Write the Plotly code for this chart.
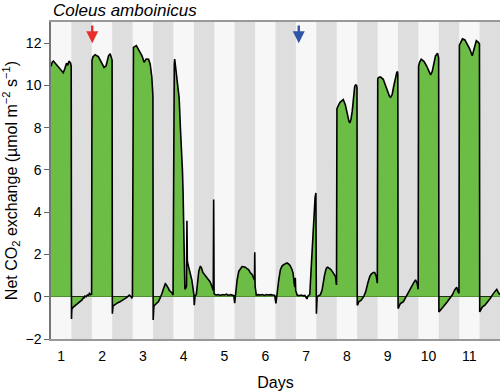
import plotly.graph_objects as go

# ---------------- data ----------------
day_labels = ["1", "2", "3", "4", "5", "6", "7", "8", "9", "10", "11"]

# Days 1-3 (normal C3-like pattern)
early_t = [0.0, 0.03, 0.06, 0.10, 0.15, 0.20, 0.25, 0.30, 0.34, 0.38, 0.41, 0.44, 0.48, 0.495,
           0.502, 0.51, 0.54, 0.59, 0.63, 0.67, 0.70, 0.73, 0.76, 0.78, 0.81, 0.83, 0.86, 0.89, 0.92, 0.94, 0.97, 0.995,
           1.005, 1.03, 1.08, 1.16, 1.24, 1.30, 1.35, 1.41, 1.45, 1.49, 1.497,
           1.503, 1.52, 1.55, 1.58, 1.61, 1.65, 1.69, 1.73, 1.77, 1.80, 1.82, 1.85, 1.87, 1.90, 1.92, 1.95, 1.98, 1.995,
           2.005, 2.02, 2.09, 2.14, 2.19, 2.23, 2.28, 2.33, 2.39, 2.43, 2.47, 2.49, 2.497,
           2.503, 2.52, 2.55, 2.59, 2.63, 2.67, 2.70, 2.72, 2.76, 2.78, 2.80, 2.82, 2.85, 2.88, 2.90, 2.93, 2.96, 2.99]
early_v = [10.9, 11.1, 11.15, 11.05, 10.95, 10.85, 10.7, 10.6, 10.8, 11.05, 10.95, 11.15, 11.05, 10.9,
           -1.05, -0.6, -0.5, -0.42, -0.38, -0.3, -0.25, -0.18, -0.15, -0.08, -0.05, 0.03, 0.0, 0.08, 0.06, 0.16, 0.1, 0.12,
           11.2, 11.36, 11.45, 11.36, 11.09, 10.85, 10.93, 11.4, 11.5, 11.3, 11.2,
           -0.8, -0.45, -0.4, -0.35, -0.32, -0.27, -0.24, -0.2, -0.16, -0.12, -0.08, -0.04, 0.0, 0.04, 0.08, 0.02, -0.05, 0.0,
           11.6, 11.8, 11.88, 11.7, 11.55, 11.4, 11.09, 11.25, 11.24, 11.0, 10.4, 9.9, 9.5,
           -1.1, -0.45, -0.38, -0.32, -0.24, -0.08, 0.05, 0.16, 0.4, 0.55, 0.62, 0.58, 0.5, 0.38, 0.29, 0.24, 0.19, 0.08]

# Days 4-7 (collapse and night-time uptake)
transition_t = [3.005, 3.02, 3.03, 3.05, 3.08, 3.11, 3.14, 3.17, 3.20, 3.22, 3.235, 3.245, 3.255, 3.265, 3.28, 3.30, 3.32,
                3.33, 3.34, 3.36, 3.39, 3.42, 3.45, 3.48, 3.50, 3.51, 3.53, 3.56, 3.59, 3.62, 3.66, 3.69, 3.72, 3.76,
                3.80, 3.85, 3.90, 3.94, 3.975, 3.985, 3.995, 4.02,
                4.05, 4.10, 4.15, 4.20, 4.25, 4.30, 4.35, 4.40, 4.45, 4.48, 4.50, 4.52,
                4.56, 4.60, 4.64, 4.68, 4.72, 4.76, 4.80, 4.84, 4.88, 4.93, 4.97, 4.985, 4.992, 5.0, 5.03,
                5.08, 5.13, 5.18, 5.23, 5.28, 5.33, 5.38, 5.43, 5.48, 5.51, 5.53,
                5.56, 5.58, 5.62, 5.66, 5.70, 5.74, 5.78, 5.82, 5.86, 5.90, 5.93, 5.96, 5.975, 5.985, 5.995, 6.03,
                6.08, 6.13, 6.18, 6.22, 6.27, 6.30, 6.34, 6.37, 6.40, 6.43, 6.45, 6.47, 6.49, 6.497, 6.502,
                6.52, 6.56, 6.60, 6.64, 6.67, 6.70, 6.73, 6.75, 6.78, 6.81, 6.85, 6.89, 6.93, 6.97, 6.99, 6.995]
transition_v = [10.3, 11.0, 11.25, 10.9, 10.5, 10.1, 9.4, 8.0, 7.0, 6.0, 5.0, 4.0, 1.9, 0.5, 0.35, 0.4, 0.5,
                3.6, 1.7, 1.5, 1.3, 1.1, 0.8, 0.4, 0.1, -0.4, 0.05, 0.1, 0.7, 1.2, 1.45, 1.35, 1.15, 1.05,
                0.95, 0.85, 0.7, 0.5, 0.3, 4.6, 0.15, 0.1,
                0.08, 0.1, 0.06, 0.1, 0.08, 0.12, 0.06, 0.1, 0.08, 0.05, -0.3, 0.1,
                0.8, 1.2, 1.35, 1.43, 1.42, 1.4, 1.33, 1.28, 1.15, 1.04, 0.85, 0.8, 2.1, 0.5, 0.08,
                0.1, 0.08, 0.1, 0.06, 0.1, 0.08, 0.1, 0.08, 0.06, -0.32, 0.1,
                0.6, 0.8, 1.28, 1.45, 1.52, 1.58, 1.6, 1.55, 1.47, 1.3, 1.12, 0.6, 0.45, 0.9, 0.3, 0.08,
                0.05, 0.08, 0.04, 0.06, -0.1, 0.05, 0.1, 1.2, 2.4, 3.5, 4.3, 4.7, 4.91, 2.0, -0.8,
                0.0, 0.05, 0.1, 0.3, 0.7, 1.0, 1.25, 1.36, 1.4, 1.36, 1.3, 1.2, 1.1, 0.96, 0.6, 0.56]

# Days 8-11 (recovery)
recovery_t = [7.005, 7.02, 7.05, 7.08, 7.11, 7.16, 7.21, 7.24, 7.27, 7.30, 7.32, 7.35, 7.38, 7.40, 7.42, 7.44, 7.46, 7.485, 7.497,
              7.503, 7.52, 7.54, 7.60, 7.66, 7.71, 7.76, 7.81, 7.85, 7.87, 7.90, 7.93, 7.97, 7.99, 7.995,
              8.005, 8.02, 8.07, 8.14, 8.20, 8.25, 8.29, 8.32, 8.36, 8.39, 8.42, 8.47, 8.49, 8.497,
              8.503, 8.52, 8.56, 8.63, 8.69, 8.74, 8.81, 8.88, 8.93, 8.97, 8.995,
              9.005, 9.03, 9.07, 9.14, 9.20, 9.26, 9.30, 9.34, 9.38, 9.42, 9.47, 9.49, 9.497,
              9.503, 9.53, 9.59, 9.64, 9.71, 9.77, 9.83, 9.89, 9.94, 9.97, 9.995,
              10.005, 10.04, 10.08, 10.14, 10.20, 10.26, 10.32, 10.37, 10.42, 10.47, 10.497,
              10.503, 10.57, 10.63, 10.70, 10.76, 10.84, 10.92, 10.97, 11.0]
recovery_v = [8.9, 9.0, 9.09, 9.2, 9.25, 9.33, 9.09, 8.8, 8.54, 8.3, 8.22, 8.4, 8.78, 9.3, 9.81, 9.95, 10.02, 10.0, 9.9,
              -0.4, -0.35, -0.24, -0.16, 0.0, 0.24, 0.64, 0.96, 1.08, 1.12, 1.15, 1.15, 0.96, 0.7, 0.64,
              10.3, 10.37, 10.4, 10.29, 9.97, 9.65, 9.5, 9.44, 9.57, 9.9, 10.21, 10.61, 10.66, 10.5,
              -0.56, -0.5, -0.32, -0.24, 0.0, 0.16, 0.4, 0.64, 0.8, 0.64, 0.35,
              10.9, 11.09, 11.24, 11.13, 10.93, 10.61, 10.5, 10.66, 11.09, 11.4, 11.52, 11.4, 11.3,
              -0.72, -0.65, -0.48, -0.4, -0.24, -0.08, 0.08, 0.32, 0.45, 0.25, 0.16,
              11.9, 12.04, 12.2, 12.15, 11.96, 11.72, 11.4, 11.72, 12.12, 12.04, 11.96,
              -0.72, -0.48, -0.4, -0.24, -0.08, 0.16, 0.35, 0.16, 0.1]

# treatment markers (day position)
arrow_days = [1.01, 6.07]
arrow_colors = ["#e8302a", "#2f56a6"]

# ---------------- figure ----------------
FONT = "Liberation Sans, Arial, Helvetica, sans-serif"
t_all = early_t + transition_t + recovery_t
v_all = early_v + transition_v + recovery_v

fig = go.Figure()
fig.add_trace(go.Scatter(
    x=t_all, y=v_all, mode="lines", fill="tozeroy",
    fillcolor="#6cbd45", line=dict(color="black", width=1.6),
    hoverinfo="skip", showlegend=False,
))

n_days = len(day_labels)
shapes = []
for d in range(n_days):
    shapes.append(dict(type="rect", xref="x", yref="paper", x0=d + 0.5, x1=d + 1.0,
                       y0=0, y1=1, fillcolor="#dedede", line=dict(width=0), layer="below"))

annotations = []
for xd, col in zip(arrow_days, arrow_colors):
    annotations.append(dict(x=xd, y=12.0, ax=xd, ay=12.9, xref="x", yref="y", axref="x", ayref="y",
                            showarrow=True, arrowhead=2, arrowsize=1.0, arrowwidth=2.4,
                            arrowcolor=col, text=""))

fig.update_layout(
    width=500, height=391,
    margin=dict(l=51, r=0, t=22, b=52),
    paper_bgcolor="white", plot_bgcolor="#f7f7f7",
    font=dict(family=FONT, color="black", size=14),
    title=dict(text="<i>Coleus amboinicus</i>", x=53 / 500, xanchor="left", xref="container",
               y=1 - 10 / 391, yanchor="middle", yref="container",
               font=dict(family=FONT, size=17, color="black")),
    shapes=shapes, annotations=annotations,
    showlegend=False,
)
fig.update_xaxes(
    range=[0, n_days], tickmode="array",
    tickvals=[d + 0.25 for d in range(n_days)], ticktext=day_labels,
    ticks="", showgrid=False, zeroline=False,
    showline=True, linecolor="#999999", linewidth=2, mirror=True,
    tickfont=dict(size=14), automargin=False, ticklabelstandoff=3,
    title=dict(text="Days", font=dict(size=16), standoff=14),
)
fig.update_yaxes(
    range=[-2, 13], tickmode="array", tickvals=[-2, 0, 2, 4, 6, 8, 10, 12],
    ticks="outside", ticklen=5, tickcolor="#666666", tickwidth=1,
    showgrid=False, zeroline=True, zerolinecolor="black", zerolinewidth=1,
    showline=True, linecolor="#777777", linewidth=1.5,
    tickfont=dict(size=14), automargin=False,
    title=dict(text="Net CO<sub>2</sub> exchange (µmol m<sup>−2</sup> s<sup>−1</sup>)",
               font=dict(size=16), standoff=6),
)

fig.write_html("out.html", config={"displayModeBar": False},
               post_script="document.body.style.margin='0';document.body.style.padding='0';")
